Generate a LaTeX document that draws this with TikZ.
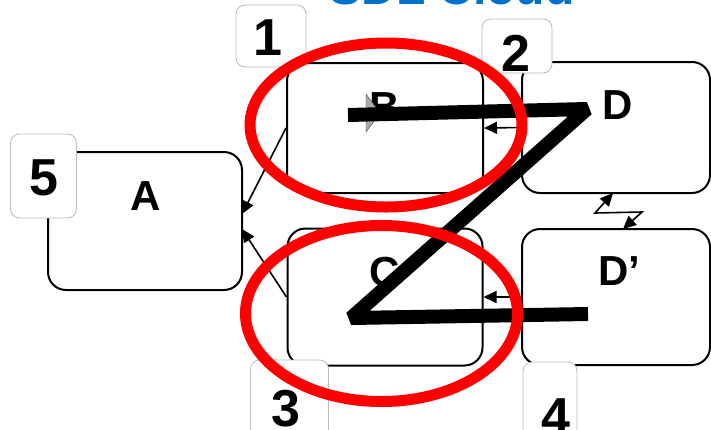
\documentclass[tikz,border=0pt]{standalone}
\usepackage{fontspec}
\setmainfont{Liberation Sans}
\usetikzlibrary{arrows.meta}

\tikzset{
	box/.style={draw,line width=2pt,rounded corners=18pt,fill=white,inner sep=0pt},
	tag/.style={draw=gray!55,line width=0.8pt,rounded corners=9pt,fill=white,inner sep=0pt},
	letter/.style={font=\fontsize{42}{42}\selectfont\bfseries,inner sep=0pt},
	digit/.style={font=\fontsize{52}{52}\selectfont\bfseries,inner sep=0pt},
	tip/.style={Triangle[length=13pt,width=12pt]},
	link/.style={line width=1.6pt,-{Triangle[length=13pt,width=12pt]}},
	zline/.style={line width=14pt,line join=bevel},
	ring/.style={draw=red,line width=11pt},
}
\definecolor{cloudblue}{RGB}{0,114,206}

\begin{document}
\begin{tikzpicture}[x=1pt,y=-1pt]
		\useasboundingbox (0,0) rectangle (711,429);
		\node (title) at (452,4) [anchor=base,inner sep=0pt,text=cloudblue,font=\fontsize{48}{48}\selectfont\bfseries] {SDL Cloud};
		
		% the five boxes
		\node (A) at (145,221) [box,minimum width=194pt,minimum height=138pt] {};
		\node (B) at (385,128) [box,minimum width=196pt,minimum height=130pt] {};
		\node (C) at (385,297) [box,minimum width=195pt,minimum height=137pt] {};
		\node (D) at (616,127.5) [box,minimum width=188pt,minimum height=131pt] {};
		\node (Dp) at (616,297) [box,minimum width=188pt,minimum height=136pt] {};
		
		% number tags
		\node (t5) at (43.5,176) [tag,minimum width=66pt,minimum height=84pt] {};
		\node (t1) at (271,36) [tag,minimum width=70pt,minimum height=62pt] {};
		\node (t2) at (517,46) [tag,minimum width=70pt,minimum height=54pt] {};
		\node (t3) at (289.5,400) [tag,minimum width=78pt,minimum height=80pt] {};
		\node (t4) at (550,400) [tag,minimum width=54pt,minimum height=76pt] {};
		\node at (t5) [digit,yshift=-2pt] {5};
		\node at (268,38) [digit] {1};
		\node at (516,53) [digit] {2};
		\node at (286,409) [digit] {3};
		\node at (556,417) [digit] {4};
		
		\node (Atext) at (146,196) [letter] {A};
		\node (Btext) at (385,107) [letter] {B};
		\node (Ctext) at (385,272) [letter] {C};
		\node (Dtext) at (618,105) [letter] {D};
		\node (Dptext) at (619,271) [letter] {D’};
		
		% links
		\coordinate (a1) at (242,214);
		\coordinate (a2) at (242,229);
		\draw[link] (B.west) -- (a1);
		\draw[link] (C.west) -- (a2);
		\draw[link] (D.west) -- (B.east);
		\draw[link] (Dp.west) -- (C.east);
		\coordinate (z1) at (613,193);
		\coordinate (z2) at (623,229);
		\draw[line width=1.6pt,{Triangle[length=13pt,width=12pt]}-{Triangle[length=13pt,width=12pt]}] (z1) -- (595,213) -- (642,212) -- (z2);
		
		% the Z
		\draw[gray!50!black,fill=gray!65] (366,94)--(380,113)--(366,132)--cycle;
		\draw[zline] (348,115)--(587,109)--(351,318)--(588,314);
		
		\draw[ring] (386,125) ellipse [x radius=136,y radius=82];
		\draw[ring] (381.5,313.5) ellipse [x radius=136,y radius=88];
	\end{tikzpicture}
\end{document}
